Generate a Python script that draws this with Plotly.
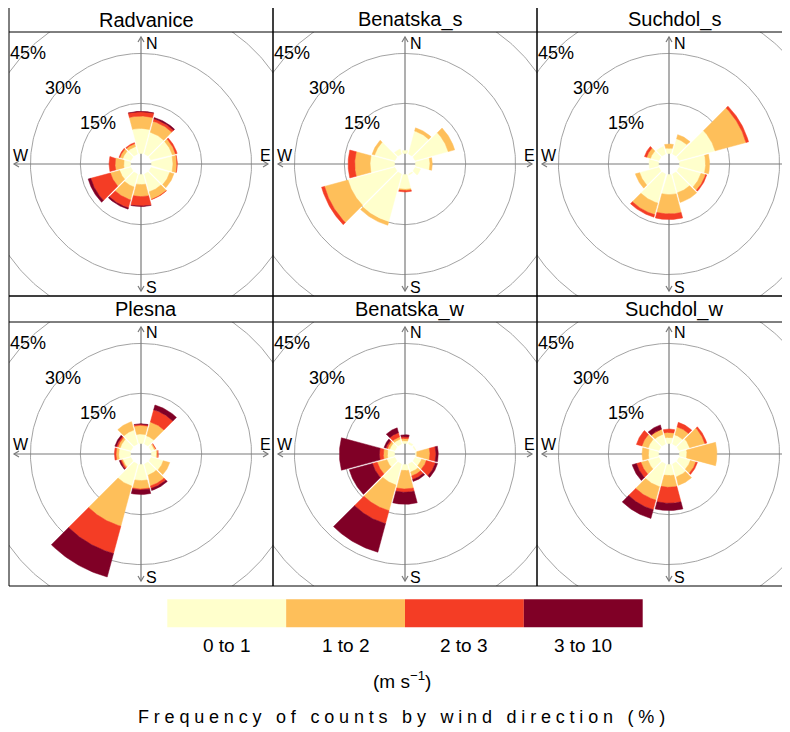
import numpy as np
import plotly.graph_objects as go

# ---------------- data ----------------
SITES = ["Radvanice", "Benatska_s", "Suchdol_s", "Plesna", "Benatska_w", "Suchdol_w"]
DIRECTIONS = [0, 30, 60, 90, 120, 150, 180, 210, 240, 270, 300, 330]
SPEED_BINS = ["0 to 1", "1 to 2", "2 to 3", "3 to 10"]
RING_VALUES = [15, 30, 45]
RING_LABELS = ["15%", "30%", "45%"]
COMPASS = ["N", "E", "S", "W"]

# frequency of counts (%) per speed bin (rows) and wind direction (columns)
radvanice = [
    [7.5, 6.7, 6.6, 6.4, 5.8, 5.5, 3.0, 4.0, 3.5, 2.0, 2.5, 2.3],
    [3.7, 3.4, 1.0, 1.2, 1.3, 2.3, 3.6, 4.0, 2.9, 2.6, 0.9, 0.9],
    [1.3, 0.8, 0.5, 0.1, 0.0, 0.1, 2.8, 2.5, 6.1, 1.8, 0.3, 0.3],
    [0.1, 0.4, 0.0, 0.0, 0.0, 0.0, 0.2, 0.4, 0.8, 0.0, 0.0, 0.0],
]
benatska_s = [
    [0.9, 7.1, 10.3, 4.3, 1.7, 0.3, 4.4, 14.9, 14.6, 7.3, 6.3, 1.5],
    [0.0, 1.0, 2.0, 0.7, 0.0, 0.0, 0.4, 1.0, 7.3, 4.6, 0.8, 0.0],
    [0.0, 0.0, 0.0, 0.0, 0.0, 0.0, 0.4, 0.0, 0.9, 2.0, 0.0, 0.0],
    [0.0, 0.0, 0.0, 0.0, 0.0, 0.0, 0.0, 0.0, 0.0, 0.0, 0.0, 0.0],
]
suchdol_s = [
    [1.6, 4.7, 11.2, 7.8, 6.8, 5.8, 6.0, 9.0, 6.0, 2.8, 2.6, 2.3],
    [1.2, 1.3, 9.6, 1.2, 1.4, 3.0, 5.8, 3.6, 1.3, 0.0, 1.2, 0.0],
    [0.0, 0.0, 0.8, 0.0, 0.4, 0.0, 1.7, 0.8, 0.0, 0.0, 0.7, 0.0],
    [0.0, 0.0, 0.0, 0.0, 0.0, 0.0, 0.0, 0.0, 0.0, 0.0, 0.0, 0.0],
]
plesna = [
    [2.8, 2.5, 1.0, 1.5, 3.8, 3.5, 4.8, 6.8, 2.5, 3.5, 3.3, 4.3],
    [2.6, 4.3, 0.3, 0.3, 2.0, 3.3, 2.5, 12.5, 0.4, 0.8, 0.7, 2.6],
    [0.3, 3.8, 0.2, 0.2, 0.0, 0.8, 0.3, 8.5, 0.4, 0.5, 0.5, 0.0],
    [0.2, 1.5, 0.0, 0.0, 0.0, 0.6, 1.4, 7.3, 0.3, 0.0, 0.5, 0.0],
]
benatska_w = [
    [0.8, 0.5, 0.3, 0.4, 2.0, 2.5, 1.8, 6.5, 2.5, 2.1, 1.6, 1.5],
    [0.7, 0.0, 0.0, 3.9, 1.5, 1.2, 5.5, 8.0, 3.0, 1.2, 0.7, 0.7],
    [0.5, 0.0, 0.0, 1.8, 2.8, 1.1, 1.0, 4.0, 1.5, 1.2, 0.5, 1.3],
    [0.6, 0.0, 0.0, 0.7, 0.7, 0.6, 3.6, 8.9, 7.2, 12.0, 0.6, 1.5],
]
suchdol_w = [
    [1.8, 2.8, 3.3, 2.2, 3.5, 4.0, 3.3, 7.0, 3.4, 3.0, 3.3, 3.0],
    [1.5, 2.5, 4.7, 9.0, 1.7, 2.6, 3.5, 4.2, 2.2, 1.9, 2.0, 1.5],
    [1.0, 1.4, 0.6, 0.0, 0.5, 0.0, 4.8, 3.0, 1.4, 0.0, 1.7, 0.1],
    [0.0, 0.0, 0.0, 0.0, 0.0, 0.0, 2.2, 2.7, 1.3, 0.0, 0.0, 1.3],
]
SITE_DATA = [radvanice, benatska_s, suchdol_s, plesna, benatska_w, suchdol_w]

# ---------------- styling / geometry (screen pixels) ----------------
PAGE_W, PAGE_H = 790, 732
OFF = 8                                  # page body margin
W, H = PAGE_W - OFF, PAGE_H - OFF        # figure size
S = 3.33          # pixels per percent
HOLE = 3.2        # central hole radius (percent units)
GAP_PX = 1.6      # white gap between sectors (px)
HALF = 15.0       # half sector width (deg)
COL_LEFT = [9, 273, 537]
PANEL_W = 264
ROWS = [(7, 32, 296), (296, 322, 586)]   # strip top, plot top, plot bottom
COLORS = ["#FFFFCC", "#FEBF5A", "#F43D25", "#800026"]
RING_COLOR = "#a3a3a3"
AXIS_COLOR = "#7a7a7a"
FONT = "Liberation Sans, Arial, sans-serif"


def px_x(sx):
    return (sx - OFF) / W


def px_y(sy):
    return 1 - (sy - OFF) / H


fig = go.Figure()
annotations = []
shapes = []


def sector(r_in, r_out, d):
    def half(r):
        rpx = max(r * S, 1e-6)
        return HALF - np.degrees(np.arcsin(min(1.0, (GAP_PX / 2) / rpx)))
    ho, hi = half(r_out), half(r_in)
    to = np.radians(np.linspace(d - ho, d + ho, 30))
    ti = np.radians(np.linspace(d + hi, d - hi, 30))
    xs = np.concatenate([r_out * np.sin(to), r_in * np.sin(ti)])
    ys = np.concatenate([r_out * np.cos(to), r_in * np.cos(ti)])
    return list(xs) + [xs[0]], list(ys) + [ys[0]]


theta = np.radians(np.linspace(0, 360, 361))

for i, (name, bins) in enumerate(zip(SITES, SITE_DATA)):
    r, c = divmod(i, 3)
    x0 = COL_LEFT[c]
    x1 = min(x0 + PANEL_W, PAGE_W)
    st, pt, pb = ROWS[r]
    cx = x0 + PANEL_W / 2
    cy = (pt + pb) / 2
    sfx = "" if i == 0 else str(i + 1)
    xref, yref = "x" + sfx, "y" + sfx
    fig.update_layout({
        "xaxis" + sfx: dict(domain=[px_x(x0), px_x(x1)], range=[(x0 - cx) / S, (x1 - cx) / S],
                            visible=False, fixedrange=True, anchor=yref),
        "yaxis" + sfx: dict(domain=[px_y(pb), px_y(pt)], range=[(cy - pb) / S, (cy - pt) / S],
                            visible=False, fixedrange=True, anchor=xref),
    })

    # rings
    for v in RING_VALUES:
        rr = HOLE + v
        fig.add_trace(go.Scatter(x=rr * np.sin(theta), y=rr * np.cos(theta), mode="lines",
                                 line=dict(color=RING_COLOR, width=1), hoverinfo="skip",
                                 showlegend=False, xaxis=xref, yaxis=yref))

    # compass axes with arrow heads
    L = 127 / S
    a, b = 5 / S, 3 / S
    ax_x = [0, 0, None, -L, L, None,
            -b, 0, b, None, -b, 0, b, None,
            -L + a, -L, -L + a, None, L - a, L, L - a]
    ax_y = [-L, L, None, 0, 0, None,
            L - a, L, L - a, None, -L + a, -L, -L + a, None,
            b, 0, -b, None, b, 0, -b]
    fig.add_trace(go.Scatter(x=ax_x, y=ax_y, mode="lines", line=dict(color=AXIS_COLOR, width=1.2),
                             hoverinfo="skip", showlegend=False, xaxis=xref, yaxis=yref))

    # stacked sectors
    cum = np.zeros(len(DIRECTIONS))
    for j, row in enumerate(bins):
        xs, ys = [], []
        new = cum + np.array(row)
        for k, d in enumerate(DIRECTIONS):
            if row[k] > 0:
                px, py = sector(HOLE + cum[k], HOLE + new[k], d)
                xs += px + [None]
                ys += py + [None]
        cum = new
        if xs:
            fig.add_trace(go.Scatter(x=xs, y=ys, mode="lines", fill="toself",
                                     fillcolor=COLORS[j], line=dict(color=COLORS[j], width=0.5),
                                     hoverinfo="skip", showlegend=False, xaxis=xref, yaxis=yref))

    # ring labels
    for v, lab in zip(RING_VALUES, RING_LABELS):
        rr = HOLE + v
        annotations.append(dict(x=-rr * np.sin(np.pi / 4), y=rr * np.cos(np.pi / 4), xref=xref, yref=yref,
                                text=lab, showarrow=False, font=dict(size=18, color="black", family=FONT),
                                xanchor="center", yanchor="middle", yshift=-2))
    # compass labels
    annotations += [
        dict(x=0, y=121 / S, xref=xref, yref=yref, text=COMPASS[0], xanchor="left", yanchor="middle", xshift=3),
        dict(x=117 / S, y=9 / S, xref=xref, yref=yref, text=COMPASS[1], xanchor="left", yanchor="middle"),
        dict(x=0, y=-123 / S, xref=xref, yref=yref, text=COMPASS[2], xanchor="left", yanchor="middle", xshift=3),
        dict(x=-130 / S, y=9 / S, xref=xref, yref=yref, text=COMPASS[3], xanchor="left", yanchor="middle"),
    ]
    for an in annotations[-4:]:
        an.update(showarrow=False, font=dict(size=16, color="black", family=FONT))

    # panel frame and strip
    shapes.append(dict(type="rect", xref="paper", yref="paper", x0=px_x(x0), x1=px_x(x0 + PANEL_W),
                       y0=px_y(pb), y1=px_y(st), line=dict(color="black", width=1)))
    shapes.append(dict(type="line", xref="paper", yref="paper", x0=px_x(x0), x1=px_x(x0 + PANEL_W),
                       y0=px_y(pt), y1=px_y(pt), line=dict(color="black", width=1)))
    annotations.append(dict(x=px_x(cx + 5), y=px_y((st + pt) / 2), xref="paper", yref="paper",
                            text=name, showarrow=False, xanchor="center", yanchor="middle",
                            font=dict(size=20, color="black", family=FONT)))

# key
KEY_X0, KEY_X1, KEY_Y0, KEY_Y1 = 167.3, 642.7, 599.3, 627.3
bw = (KEY_X1 - KEY_X0) / len(SPEED_BINS)
for j, lab in enumerate(SPEED_BINS):
    shapes.append(dict(type="rect", xref="paper", yref="paper",
                       x0=px_x(KEY_X0 + j * bw), x1=px_x(KEY_X0 + (j + 1) * bw),
                       y0=px_y(KEY_Y1), y1=px_y(KEY_Y0), fillcolor=COLORS[j], line=dict(width=0)))
    annotations.append(dict(x=px_x(KEY_X0 + (j + 0.5) * bw), y=px_y(645), xref="paper", yref="paper",
                            text=lab, showarrow=False, xanchor="center", yanchor="middle",
                            font=dict(size=19, color="black", family=FONT)))
annotations.append(dict(x=px_x(402), y=px_y(680), xref="paper", yref="paper",
                        text="(m s<sup>\u22121</sup>)", showarrow=False, xanchor="center", yanchor="middle",
                        font=dict(size=19, color="black", family=FONT)))
annotations.append(dict(x=px_x(404), y=px_y(717), xref="paper", yref="paper",
                        text='<span style="letter-spacing:4.8px">Frequency of counts by wind direction (%)</span>',
                        showarrow=False, xanchor="center", yanchor="middle",
                        font=dict(size=18, color="black", family=FONT)))

fig.update_layout(width=W, height=H, margin=dict(l=0, r=0, t=0, b=0),
                  paper_bgcolor="white", plot_bgcolor="rgba(0,0,0,0)",
                  showlegend=False, annotations=annotations, shapes=shapes,
                  font=dict(family=FONT, color="black"))

fig.write_html("out.html")
